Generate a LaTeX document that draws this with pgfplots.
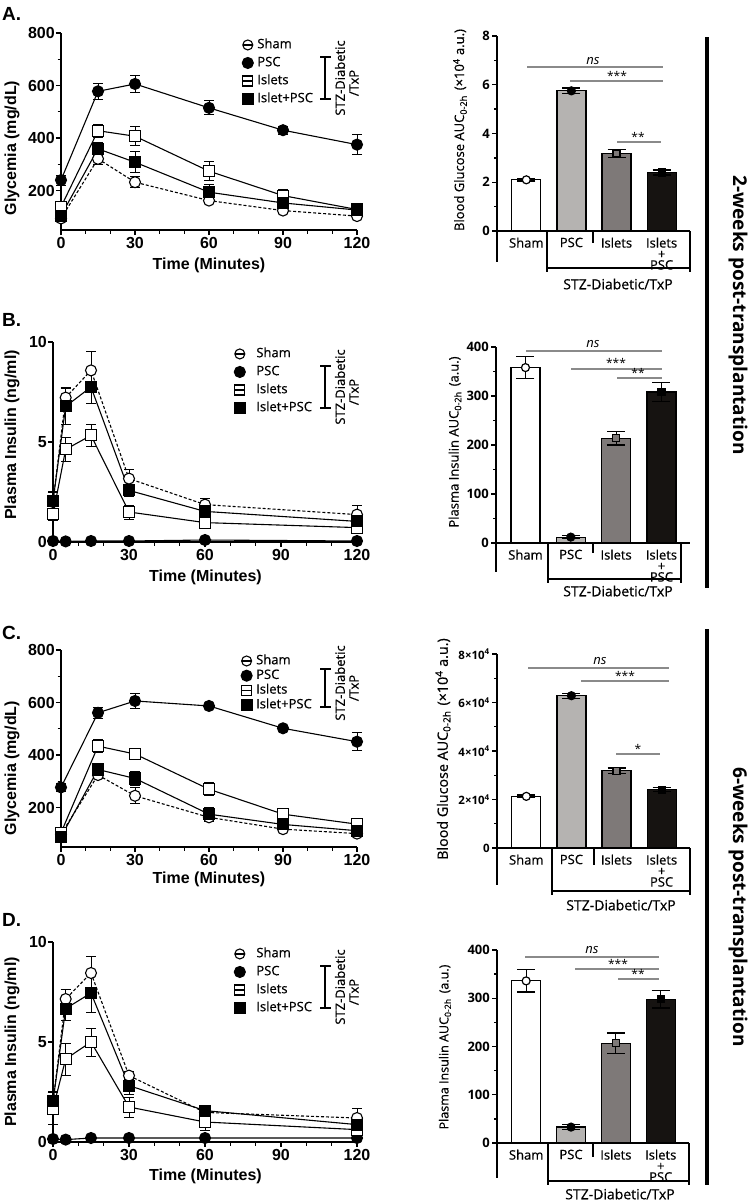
\documentclass[border=0pt]{standalone}
\usepackage{fontspec}
\setmainfont{Liberation Sans}
\newfontfamily\os{Open Sans}
\newfontfamily\osm{Open Sans}[FakeBold=0.6]
\usepackage{pgfplots}
\pgfplotsset{compat=1.18}
\newcommand{\fz}[1]{\fontsize{#1}{#1}\selectfont}
\definecolor{g1}{HTML}{B5B3B1}
\definecolor{g2}{HTML}{7E7978}
\definecolor{g3}{HTML}{161311}
\definecolor{sg}{HTML}{8A8A8A}
\pgfplotsset{
 lgsham/.style={legend image code/.code={\draw[line width=1.1pt,solid] (-5pt,0)--(5pt,0); \draw[line width=1.1pt,solid] (0,0) circle (5pt);}},
 lgpsc/.style={legend image code/.code={\fill[black] (0,0) circle (5.5pt);}},
 lgisl/.style={legend image code/.code={\draw[line width=1.1pt,solid] (-5pt,0)--(5pt,0); \draw[line width=1.1pt,solid] (-5pt,-5pt) rectangle (5pt,5pt);}},
 lgip/.style={legend image code/.code={\fill[black] (-5.5pt,-5.5pt) rectangle (5.5pt,5.5pt);}},
 sham/.style={black, dash pattern=on 3pt off 2pt, mark=*, mark options={solid, fill=white, mark size=5.5pt}, lgsham},
 psc/.style={black, solid, mark=*, mark options={solid, fill=black, mark size=5.5pt}, lgpsc},
 isl/.style={black, solid, mark=square*, mark options={solid, fill=white, mark size=5.5pt}, lgisl},
 ip/.style={black, solid, mark=square*, mark options={solid, fill=black, mark size=5.5pt}, lgip},
 lc/.style={
   scale only axis, anchor=south west, clip=false,
   axis x line*=bottom, axis y line*=left,
   axis line style={line width=1.3pt},
   xmin=0, xmax=120, xtick={0,30,60,90,120}, xticklabels={0,30,60,90,120},
   minor x tick num=2,
   tick align=outside, major tick length=5pt, minor tick length=3.5pt,
   every tick/.style={black, line width=1.3pt},
   tick label style={font=\bfseries\fz{16}},
   /pgf/number format/assume math mode=true,
   yticklabel style={inner xsep=1pt},
   xticklabel style={inner ysep=2pt},
   legend cell align=left,
   legend style={draw=none, fill=none, anchor=north west, inner sep=0pt, font=\osm\fz{13}, row sep=5.5pt, column sep=3.5pt, nodes={inner sep=0pt, text height=9.5pt, text depth=3pt}},
   every axis plot/.append style={line width=1.1pt},
   error bars/y dir=both, error bars/y explicit,
   error bars/error bar style={line width=1pt, solid},
   error bars/error mark options={line width=1pt, mark size=5pt, solid, rotate=90},
 },
 bc/.style={
   scale only axis, anchor=south west, clip=false,
   axis x line*=bottom, axis y line*=left,
   axis line style={line width=1.3pt},
   xmin=-0.65, xmax=3.63, xtick={0,1,2,3}, xticklabels={Sham,PSC,Islets,{Islets\\+\\PSC}},
   major x tick style={draw=none}, 
   xticklabel style={align=center, font=\osm\fontsize{13}{11}\selectfont, anchor=north, inner ysep=1.5pt},
   tick align=outside, major tick length=5pt, minor tick length=3pt,
   every tick/.style={black, line width=1.3pt},
   yticklabel style={font=\os\bfseries\fz{13}, inner xsep=2pt},
   /pgf/number format/assume math mode=true,
   ybar, bar width=29pt, bar shift=0pt,
   every axis plot/.append style={line width=1.2pt, draw=black},
   error bars/y dir=both, error bars/y explicit,
   error bars/error bar style={line width=1.2pt},
   error bars/error mark options={line width=1.2pt, mark size=9pt, rotate=90},
 },
}
\begin{document}
\begin{tikzpicture}
\path[use as bounding box] (0pt,0pt) rectangle (750pt,-1202pt);

% ---------------- A: line chart
\begin{axis}[lc, at={(61pt,-230pt)}, width=296pt, height=197pt,
  ymin=50, ymax=800, ytick={200,400,600,800}, yticklabels={200,400,600,800},
  minor ytick={100,300,500,700},
  legend style={at={(0.610,0.972)}}]
\addplot[sham] coordinates {(0,94) +- (0,8) (15,321) +- (0,23) (30,232) +- (0,20) (60,162) +- (0,8) (90,124) +- (0,8) (120,103) +- (0,6)};
\addlegendentry{Sham}
\addplot[psc] coordinates {(0,240) +- (0,19) (15,578) +- (0,30) (30,606) +- (0,32) (60,515) +- (0,27) (90,430) +- (0,15) (120,375) +- (0,38)};
\addlegendentry{PSC}
\addplot[isl] coordinates {(0,138) +- (0,10) (15,428) +- (0,25) (30,407) +- (0,37) (60,274) +- (0,37) (90,181) +- (0,22) (120,128) +- (0,8)};
\addlegendentry{Islets}
\addplot[ip] coordinates {(0,105) +- (0,10) (15,359) +- (0,24) (30,308) +- (0,40) (60,194) +- (0,28) (90,153) +- (0,17) (120,126) +- (0,8)};
\addlegendentry{Islet+PSC}
\end{axis}

% ---------------- A: bar chart
\begin{axis}[bc, at={(497pt,-231pt)}, width=193pt, height=195pt,
  ymin=0, ymax=8, ytick={0,2,4,6,8}, yticklabels={0,2,4,6,8}, minor ytick={1,3,5,7}]
\addplot[fill=white, mark=*, mark options={fill=white, mark size=4pt}] coordinates {(0,2.1) +- (0,0.05)};
\addplot[fill=g1, mark=*, mark options={fill=black, mark size=4pt}] coordinates {(1,5.75) +- (0,0.12)};
\addplot[fill=g2, mark=square*, mark options={fill=g2, mark size=3.5pt}] coordinates {(2,3.18) +- (0,0.15)};
\addplot[fill=g3, mark=square*, mark options={fill=black, mark size=3.5pt}] coordinates {(3,2.4) +- (0,0.1)};
\end{axis}

% ---------------- B: line chart
\begin{axis}[lc, at={(53pt,-542pt)}, width=304pt, height=200pt,
  ymin=0, ymax=10, ytick={0,5,10}, yticklabels={0,5,10},
  legend style={at={(0.594,0.9725)}, column sep=10.5pt}]
\addplot[sham] coordinates {(0,2.0) +- (0,0.5) (5,7.22) +- (0,0.5) (15,8.58) +- (0,0.95) (30,3.17) +- (0,0.45) (60,1.87) +- (0,0.3) (120,1.37) +- (0,0.45)};
\addlegendentry{Sham}
\addplot[psc] coordinates {(0,0.05) +- (0,0.02) (5,0.03) +- (0,0.02) (15,0.05) +- (0,0.02) (30,0.05) +- (0,0.02) (60,0.1) +- (0,0.02) (120,0.05) +- (0,0.02)};
\addlegendentry{PSC}
\addplot[isl] coordinates {(0,1.38) +- (0,0.3) (5,4.63) +- (0,0.6) (15,5.33) +- (0,0.55) (30,1.5) +- (0,0.35) (60,0.97) +- (0,0.1) (120,0.72) +- (0,0.2)};
\addlegendentry{Islets}
\addplot[ip] coordinates {(0,2.05) +- (0,0.5) (5,6.78) +- (0,0.9) (15,7.75) +- (0,0.8) (30,2.58) +- (0,0.3) (60,1.53) +- (0,0.2) (120,1.03) +- (0,0.3)};
\addlegendentry{Islet+PSC}
\end{axis}

% ---------------- B: bar chart
\begin{axis}[bc, at={(496pt,-543pt)}, width=194pt, height=196pt,
  ymin=0, ymax=400, ytick={0,100,200,300,400}, yticklabels={0,100,200,300,400}, minor ytick={50,150,250,350}]
\addplot[fill=white, mark=*, mark options={fill=white, mark size=4pt}] coordinates {(0,358) +- (0,23)};
\addplot[fill=g1, mark=*, mark options={fill=black, mark size=4pt}] coordinates {(1,12) +- (0,3)};
\addplot[fill=g2, mark=square*, mark options={fill=g2, mark size=3.5pt}] coordinates {(2,214) +- (0,14)};
\addplot[fill=g3, mark=square*, mark options={fill=black, mark size=3.5pt}] coordinates {(3,308) +- (0,20)};
\end{axis}

% ---------------- C: line chart
\begin{axis}[lc, at={(61pt,-847pt)}, width=296pt, height=197pt,
  ymin=50, ymax=800, ytick={200,400,600,800}, yticklabels={200,400,600,800},
  minor ytick={100,300,500,700},
  legend style={at={(0.606,0.977)}, row sep=2.2pt}]
\addplot[sham] coordinates {(0,99) +- (0,8) (15,324) +- (0,15) (30,245) +- (0,30) (60,163) +- (0,15) (90,118) +- (0,8) (120,101) +- (0,6)};
\addlegendentry{Sham}
\addplot[psc] coordinates {(0,277) +- (0,15) (15,561) +- (0,20) (30,606) +- (0,28) (60,587) +- (0,8) (90,502) +- (0,8) (120,451) +- (0,35)};
\addlegendentry{PSC}
\addplot[isl] coordinates {(0,104) +- (0,8) (15,434) +- (0,25) (30,404) +- (0,20) (60,270) +- (0,25) (90,175) +- (0,20) (120,137) +- (0,8)};
\addlegendentry{Islets}
\addplot[ip] coordinates {(0,89) +- (0,8) (15,345) +- (0,20) (30,311) +- (0,25) (60,175) +- (0,25) (90,136) +- (0,10) (120,112) +- (0,8)};
\addlegendentry{Islet+PSC}
\end{axis}

% ---------------- C: bar chart
\begin{axis}[bc, at={(497pt,-848pt)}, width=193pt, height=194pt,
  ymin=0, ymax=80000, scaled y ticks=false, ytick={0,20000,40000,60000,80000},
  yticklabels={0,2×10\textsuperscript{4},4×10\textsuperscript{4},6×10\textsuperscript{4},8×10\textsuperscript{4}},
  yticklabel style={font=\os\bfseries\fz{11.5}},
  minor ytick={10000,30000,50000,70000}]
\addplot[fill=white, mark=*, mark options={fill=white, mark size=4pt}] coordinates {(0,21300) +- (0,600)};
\addplot[fill=g1, mark=*, mark options={fill=black, mark size=4pt}] coordinates {(1,62800) +- (0,1000)};
\addplot[fill=g2, mark=square*, mark options={fill=g2, mark size=3.5pt}] coordinates {(2,31800) +- (0,1200)};
\addplot[fill=g3, mark=square*, mark options={fill=black, mark size=3.5pt}] coordinates {(3,24000) +- (0,800)};
\end{axis}

% ---------------- D: line chart
\begin{axis}[lc, at={(53pt,-1142pt)}, width=304pt, height=200pt,
  ymin=0, ymax=10, ytick={0,5,10}, yticklabels={0,5,10},
  legend style={at={(0.594,0.9725)}, column sep=10.5pt}]
\addplot[sham] coordinates {(0,2.0) +- (0,0.5) (5,7.15) +- (0,0.5) (15,8.45) +- (0,0.85) (30,3.32) +- (0,0.2) (60,1.48) +- (0,0.3) (120,1.2) +- (0,0.5)};
\addlegendentry{Sham}
\addplot[psc] coordinates {(0,0.15) +- (0,0.03) (5,0.12) +- (0,0.03) (15,0.2) +- (0,0.03) (30,0.2) +- (0,0.03) (60,0.2) +- (0,0.03) (120,0.2) +- (0,0.03)};
\addlegendentry{PSC}
\addplot[isl] coordinates {(0,1.67) +- (0,0.8) (5,4.15) +- (0,0.8) (15,5.0) +- (0,0.7) (30,1.75) +- (0,0.5) (60,1.0) +- (0,0.4) (120,0.62) +- (0,0.3)};
\addlegendentry{Islets}
\addplot[ip] coordinates {(0,2.03) +- (0,0.5) (5,6.67) +- (0,0.6) (15,7.45) +- (0,0.95) (30,2.82) +- (0,0.45) (60,1.57) +- (0,0.2) (120,0.87) +- (0,0.3)};
\addlegendentry{Islet+PSC}
\end{axis}

% ---------------- D: bar chart
\begin{axis}[bc, at={(497pt,-1143pt)}, width=192pt, height=193pt,
  ymin=0, ymax=400, ytick={0,100,200,300,400}, yticklabels={0,100,200,300,400}, minor ytick={50,150,250,350}]
\addplot[fill=white, mark=*, mark options={fill=white, mark size=4pt}] coordinates {(0,336) +- (0,23)};
\addplot[fill=g1, mark=*, mark options={fill=black, mark size=4pt}] coordinates {(1,33) +- (0,5)};
\addplot[fill=g2, mark=square*, mark options={fill=g2, mark size=3.5pt}] coordinates {(2,207) +- (0,21)};
\addplot[fill=g3, mark=square*, mark options={fill=black, mark size=3.5pt}] coordinates {(3,298) +- (0,18)};
\end{axis}

% ---------------- annotations
\begin{scope}[x=1pt,y=-1pt]
 % panel labels
 \foreach \l/\yy in {A./14,B./320,C./633,D./920}{\node[anchor=west, inner sep=0pt, font=\bfseries\fz{19}] at (2,\yy) {\l};}
 % y labels line charts
 \node[rotate=90, font=\bfseries\fz{16}] at (12,148) {Glycemia (mg/dL)};
 \node[rotate=90, font=\bfseries\fz{16}] at (12,435) {Plasma Insulin (ng/ml)};
 \node[rotate=90, font=\bfseries\fz{16}] at (12,768) {Glycemia (mg/dL)};
 \node[rotate=90, font=\bfseries\fz{16}] at (12,1042) {Plasma Insulin (ng/ml)};
 % x labels line charts
 \node[font=\bfseries\fz{16}] at (209,265) {Time (Minutes)};
 \node[font=\bfseries\fz{16}] at (205.5,577) {Time (Minutes)};
 \node[font=\bfseries\fz{16}] at (209,879) {Time (Minutes)};
 \node[font=\bfseries\fz{16}] at (205.5,1176) {Time (Minutes)};
 % brackets in line charts
 \foreach \ya/\yb/\tc in {57/99/78,366/408/387,669/707/683,966/1008/987}{
   \draw[line width=1.2pt] (325,\ya)--(325,\yb) (320,\ya)--(331,\ya) (320,\yb)--(331,\yb);
   \node[rotate=90, font=\osm\fz{13}, inner sep=0pt] at (340,\tc) {STZ-Diabetic};
   \node[rotate=90, font=\osm\fz{13}, inner sep=0pt] at (354,\tc+5) {/TxP};
 }
 % bar y labels
 \node[rotate=90, font=\osm\fz{13}] at (460,130) {Blood Glucose AUC\textsubscript{0-2h}\hspace{5pt}(×10\textsuperscript{4} a.u.)};
 \node[rotate=90, font=\osm\fz{13}] at (455,442) {Plasma Insulin AUC\textsubscript{0-2h}\hspace{5pt}(a.u.)};
 \node[rotate=90, font=\osm\fz{14.3}] at (443,749) {Blood Glucose AUC\textsubscript{0-2h}\hspace{5pt}(×10\textsuperscript{4} a.u.)};
 \node[rotate=90, font=\osm\fz{12.5}] at (445,1047) {Plasma Insulin AUC\textsubscript{0-2h}\hspace{5pt}(a.u.)};
 % significance lines
 \begin{scope}[line width=1.2pt, sg]
  \draw (527,67)--(663,67); \draw (570,81)--(663,81); \draw (617,142)--(661,142);
  \draw (526,351)--(662,351); \draw (571,369)--(662,369); \draw (617,378)--(662,378);
  \draw (528,668)--(669,668); \draw (581,681)--(669,681); \draw (616,754)--(660,754);
  \draw (525,957)--(659,957); \draw (575,969)--(659,969); \draw (618,979)--(659,979);
 \end{scope}
 \begin{scope}[font=\os\itshape\fz{13}, inner sep=0pt]
  \node at (593,61) {ns}; \node at (593,344) {ns}; \node at (600,661) {ns}; \node at (592,950) {ns};
 \end{scope}
 \begin{scope}[font=\os\fz{12}, inner sep=0pt]
  \node at (617,76) {***}; \node at (638,137) {**};
  \node at (616,363) {***}; \node at (638,373) {**};
  \node at (625,676) {***}; \node at (638,749) {*};
  \node at (618,964) {***}; \node at (638,974) {**};
 \end{scope}
 % bar bottoms
 \begin{scope}[line width=1.3pt]
  \draw (497,231)--(497,262) (547,231)--(547,272) (593,231)--(593,243) (690,231)--(690,272) (547,268)--(690,268);
  \draw (496,543)--(496,572) (548,543)--(548,583) (593,543)--(593,553) (681,543)--(681,583) (548,579)--(681,579);
  \draw (497,848)--(497,885) (552,848)--(552,895) (594,848)--(594,865) (690,848)--(690,895) (552,891)--(690,891);
  \draw (497,1143)--(497,1178) (548,1143)--(548,1185) (593,1143)--(593,1157) (689,1143)--(689,1185) (548,1181)--(689,1181);
 \end{scope}
 \node[font=\osm\fz{14}] at (618,284) {STZ-Diabetic/TxP};
 \node[font=\osm\fz{14}] at (618,591) {STZ-Diabetic/TxP};
 \node[font=\osm\fz{14}] at (621,905) {STZ-Diabetic/TxP};
 \node[font=\osm\fz{14}] at (620,1194) {STZ-Diabetic/TxP};
 % right side
 \draw[line width=4pt] (707,37)--(707,588) (707,629)--(707,1185);
 \node[rotate=-90, font=\os\bfseries\fz{19}] at (738,315) {2-weeks post-transplantation};
 \node[rotate=-90, font=\os\bfseries\fz{19}] at (738,907) {6-weeks post-transplantation};
\end{scope}
\end{tikzpicture}
\end{document}
